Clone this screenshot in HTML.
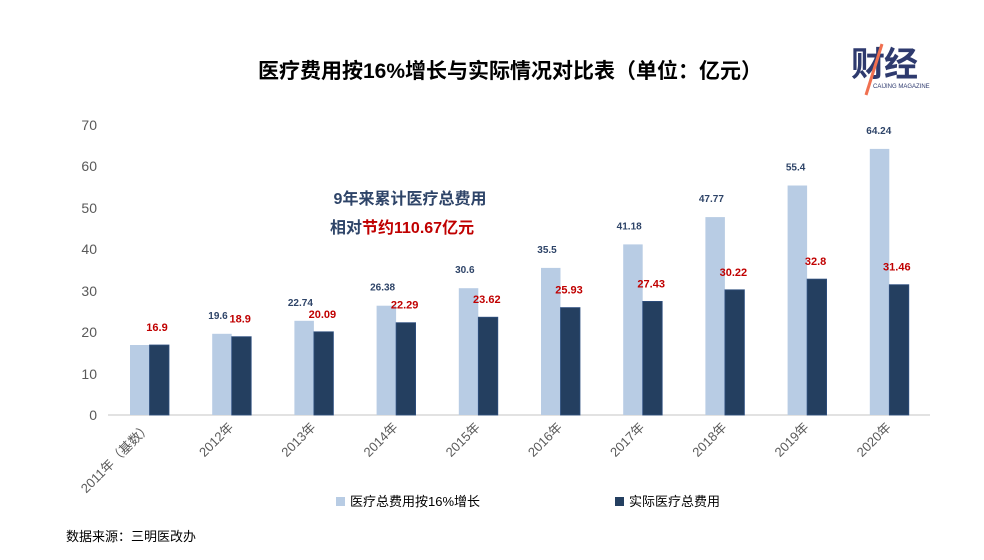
<!DOCTYPE html>
<html><head><meta charset="utf-8"><style>
body{margin:0;background:#fff;}
svg{display:block;font-family:"Liberation Sans","Noto Sans CJK SC",sans-serif;}
</style></head><body>
<svg width="984" height="560" viewBox="0 0 984 560">
<text x="510" y="78" text-anchor="middle" font-size="21" font-weight="bold" fill="#000">医疗费用按16%增长与实际情况对比表（单位：亿元）</text>
<text x="851" y="76" font-size="34" font-weight="bold" fill="#2e3a6e" letter-spacing="-1">财经</text>
<line x1="882" y1="44" x2="866" y2="95" stroke="#f07050" stroke-width="3"/>
<text x="873" y="88" font-size="6" fill="#2e3a6e">CAIJING MAGAZINE</text>
<g font-size="14" fill="#595959" text-anchor="end">
<text x="97" y="420">0</text><text x="97" y="379">10</text><text x="97" y="337">20</text>
<text x="97" y="296">30</text><text x="97" y="254">40</text><text x="97" y="213">50</text>
<text x="97" y="171">60</text><text x="97" y="130">70</text>
</g>
<line x1="108" y1="415" x2="930" y2="415" stroke="#d9d9d9" stroke-width="1.5"/>
<g fill="#b8cce4">
<rect x="130" y="345" width="19.5" height="70"/>
<rect x="212.2" y="333.8" width="19.5" height="81.2"/>
<rect x="294.4" y="320.8" width="19.5" height="94.2"/>
<rect x="376.6" y="305.7" width="19.5" height="109.3"/>
<rect x="458.8" y="288.2" width="19.5" height="126.8"/>
<rect x="541" y="267.9" width="19.5" height="147.1"/>
<rect x="623.2" y="244.4" width="19.5" height="170.6"/>
<rect x="705.4" y="217.1" width="19.5" height="197.9"/>
<rect x="787.6" y="185.5" width="19.5" height="229.5"/>
<rect x="869.8" y="148.9" width="19.5" height="266.1"/>
</g>
<g fill="#243f60" stroke="#2f5080" stroke-width="0.8">
<rect x="149.5" y="345" width="19.5" height="70"/>
<rect x="231.7" y="336.7" width="19.5" height="78.3"/>
<rect x="313.9" y="331.8" width="19.5" height="83.2"/>
<rect x="396.1" y="322.7" width="19.5" height="92.3"/>
<rect x="478.3" y="317.2" width="19.5" height="97.8"/>
<rect x="560.5" y="307.6" width="19.5" height="107.4"/>
<rect x="642.7" y="301.4" width="19.5" height="113.6"/>
<rect x="724.9" y="289.8" width="19.5" height="125.2"/>
<rect x="807.1" y="279.1" width="19.5" height="135.9"/>
<rect x="889.3" y="284.7" width="19.5" height="130.3"/>
</g>
<g font-size="10" font-weight="bold" fill="#2e4468" text-anchor="middle">
<text x="218" y="318.8">19.6</text>
<text x="300.4" y="305.8">22.74</text>
<text x="382.6" y="290.7">26.38</text>
<text x="464.8" y="273.2">30.6</text>
<text x="547" y="252.9">35.5</text>
<text x="629.2" y="229.4">41.18</text>
<text x="711.4" y="202.1">47.77</text>
<text x="795.6" y="170.5">55.4</text>
<text x="878.8" y="133.9">64.24</text>
</g>
<g font-size="11" font-weight="bold" fill="#c00000" text-anchor="middle">
<text x="157" y="331">16.9</text>
<text x="240.2" y="322.7">18.9</text>
<text x="322.4" y="317.8">20.09</text>
<text x="404.6" y="308.7">22.29</text>
<text x="486.8" y="303.2">23.62</text>
<text x="569" y="293.6">25.93</text>
<text x="651.2" y="287.4">27.43</text>
<text x="733.4" y="275.8">30.22</text>
<text x="815.6" y="265.1">32.8</text>
<text x="896.8" y="270.7">31.46</text>
</g>
<g font-size="13" fill="#595959" text-anchor="end">
<text transform="translate(152,428) rotate(-45)">2011年（基数）</text>
<text transform="translate(234.2,428) rotate(-45)">2012年</text>
<text transform="translate(316.4,428) rotate(-45)">2013年</text>
<text transform="translate(398.6,428) rotate(-45)">2014年</text>
<text transform="translate(480.8,428) rotate(-45)">2015年</text>
<text transform="translate(563,428) rotate(-45)">2016年</text>
<text transform="translate(645.2,428) rotate(-45)">2017年</text>
<text transform="translate(727.4,428) rotate(-45)">2018年</text>
<text transform="translate(809.6,428) rotate(-45)">2019年</text>
<text transform="translate(891.8,428) rotate(-45)">2020年</text>
</g>
<text x="410" y="204" text-anchor="middle" font-size="16" font-weight="bold" fill="#2e4468">9年来累计医疗总费用</text>
<text x="330" y="233" font-size="16" font-weight="bold" fill="#2e4468">相对<tspan fill="#c00000">节约110.67亿元</tspan></text>
<rect x="336" y="497" width="9" height="9" fill="#b8cce4"/>
<text x="350" y="506" font-size="13" fill="#000">医疗总费用按16%增长</text>
<rect x="615" y="497" width="9" height="9" fill="#243f60"/>
<text x="629" y="506" font-size="13" fill="#000">实际医疗总费用</text>
<text x="66" y="541" font-size="13" fill="#000">数据来源：三明医改办</text>
</svg>
</body></html>
